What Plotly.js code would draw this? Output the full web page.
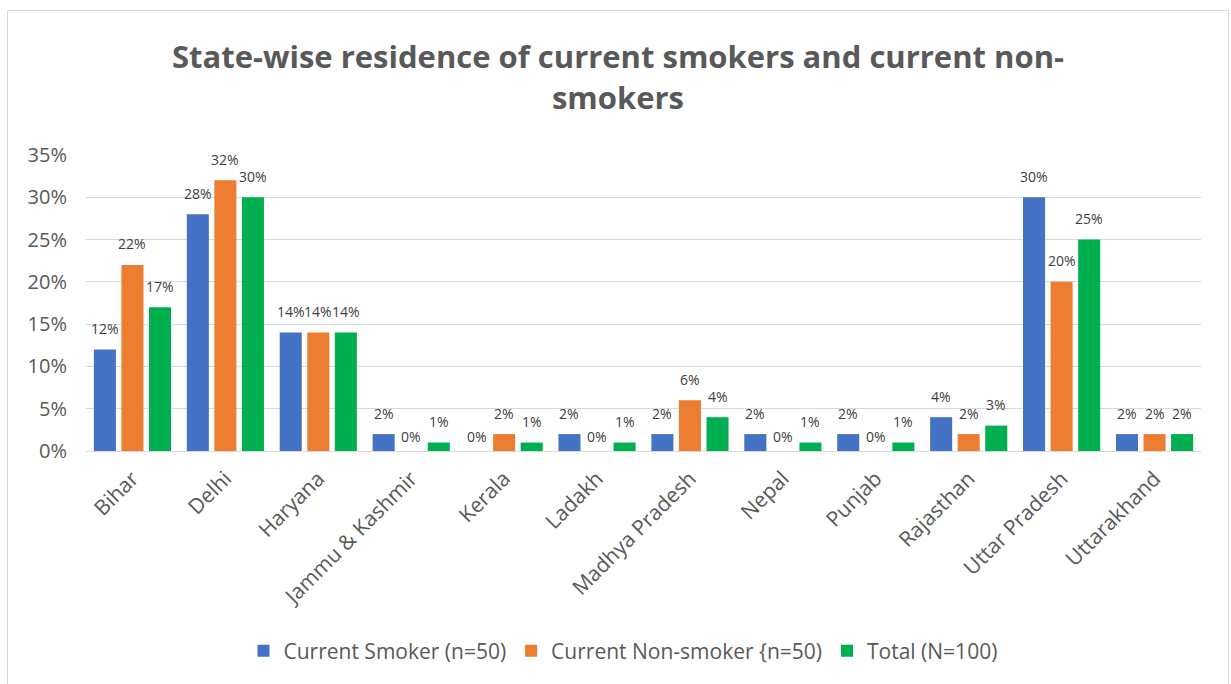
<!DOCTYPE html>
<html><head><meta charset="utf-8">
<script src="https://cdn.plot.ly/plotly-3.0.1.min.js"></script>
<style>body{margin:0;background:#fff}#wrap{position:relative;width:1231px;height:684px}#chart{width:1231px;height:684px}#frame{position:absolute;left:7px;top:10px;width:1220px;height:690px;border:1px solid #d9d9d9;pointer-events:none}</style>
</head><body><div id="wrap"><div id="chart"></div><div id="frame"></div></div>
<script>
const states = ["Bihar","Delhi","Haryana","Jammu & Kashmir","Kerala","Ladakh","Madhya Pradesh","Nepal","Punjab","Rajasthan","Uttar Pradesh","Uttarakhand"];
const smoker = [12,28,14,2,0,2,2,2,2,4,30,2];
const nonSmoker = [22,32,14,0,2,0,6,0,0,2,20,2];
const total = [17,30,14,1,1,1,4,1,1,3,25,2];
const seriesNames = ["Current Smoker (n=50)","Current Non-smoker {n=50)","Total (N=100)"];
const colors = ["#4472c4","#ed7d31","#00b050"];
const fontFam = "'Open Sans',sans-serif";
const allSeries = [smoker, nonSmoker, total];
const mk = (vals,i)=>({type:'bar',x:states,y:vals.map(v=>v/100),name:seriesNames[i],
  marker:{color:colors[i]},hoverinfo:'skip'});
const data=allSeries.map(mk);
// data labels placed above each bar via annotations (px offsets for group position)
const slotPx = 27.6;
const annotations = [];
allSeries.forEach((vals,i)=>{
  vals.forEach((v,j)=>{
    annotations.push({x:states[j],y:v/100,xref:'x',yref:'y',text:v+'%',showarrow:false,
      xshift:(i-1)*slotPx,yshift:v===0?15:21,yanchor:'middle',xanchor:'center',
      font:{size:14,color:'#404040',family:fontFam}});
  });
});
const layout={
  width:1231,height:684,margin:{l:85.5,r:29.5,t:155,b:233},
  paper_bgcolor:'#fff',plot_bgcolor:'#fff',
  title:{text:'<b>State-wise residence of current smokers and current non-<br>smokers</b>',
    font:{size:31,color:'#595959',family:fontFam},x:0.502,xanchor:'center',y:0.9,yanchor:'middle'},
  bargap:0.11,bargroupgap:0.2,
  xaxis:{tickangle:-45,tickfont:{size:21,color:'#595959',family:fontFam},showgrid:false,automargin:false,
    showline:true,linecolor:'#d9d9d9',linewidth:1,ticks:'',fixedrange:true,ticklabelstandoff:6},
  yaxis:{range:[0,0.35],dtick:0.05,tickformat:'.0%',tickfont:{size:20,color:'#595959',family:fontFam},automargin:false,
    gridcolor:'#d9d9d9',gridwidth:1,zeroline:false,showline:false,ticklabelstandoff:18},
  annotations:annotations,
  showlegend:true,
  legend:{orientation:'h',x:0.4816,xanchor:'center',y:-0.676,yanchor:'middle',
    font:{size:21,color:'#595959',family:fontFam},traceorder:'normal'}
};
Plotly.newPlot('chart',data,layout,{displayModeBar:false,staticPlot:true});
</script></body></html>
